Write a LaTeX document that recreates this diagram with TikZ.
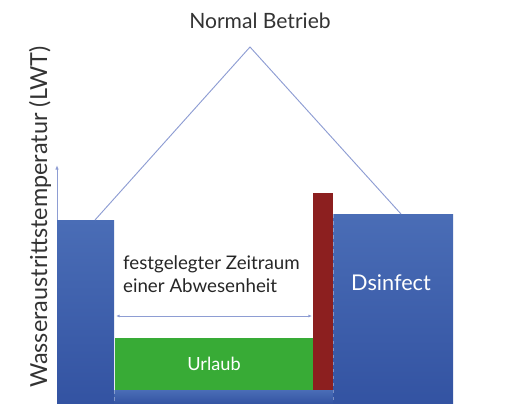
\documentclass[tikz,border=0pt]{standalone}
\usepackage{fontspec}
\setmainfont{Lato}
\usetikzlibrary{arrows.meta,positioning,calc}
\definecolor{barTop}{HTML}{4A6DB6}
\definecolor{barBot}{HTML}{3353A2}
\definecolor{leaveGreen}{HTML}{38AB36}
\definecolor{disRed}{HTML}{8C1F1F}
\definecolor{lineBlue}{HTML}{8E9DD3}

\begin{document}
\begin{tikzpicture}[x=0.03cm, y=-0.03cm,
  bar/.style={top color=barTop, bottom color=barBot, draw=none},
  head/.style={font=\fontsize{18}{21}\selectfont, text=black!80},
  note/.style={align=left, font=\fontsize{16}{19.5}\selectfont, text=black!85},
  inbar/.style={font=\fontsize{15.5}{18}\selectfont, text=white},
  roof/.style={draw=lineBlue, line width=0.8pt},
  arr/.style={-{Latex[length=4pt,width=3pt]}, draw=lineBlue, line width=0.8pt},
  seam/.style={draw=white, opacity=0.35, dashed, line width=0.6pt}
]
\useasboundingbox (0,0) rectangle (515,404);

% Bars
\fill[bar] (57,220) rectangle (114,404);
\fill[bar] (114,390) rectangle (333,404);
\fill[bar] (333,214) rectangle (453,404);
\fill[leaveGreen] (115,338) rectangle (313,390);
\fill[disRed] (313,193) rectangle (333,390);
\draw[seam] (114,390) -- (114,404);
\draw[seam] (333,214) -- (333,404);

% Roof line
\coordinate (lroof) at (95,220);
\coordinate (apex) at (250,47);
\coordinate (rroof) at (401,214);
\draw[roof] (lroof) -- (apex) -- (rroof);

% Axis and span
\coordinate (ybase) at (57,220);
\coordinate (ytip) at (57,165);
\draw[arr] (ybase) -- (ytip);
\coordinate (spanl) at (116,316);
\coordinate (spanr) at (312,316);
\draw[arr, {Latex[length=3pt,width=2.5pt]}-{Latex[length=3pt,width=2.5pt]}, line width=0.6pt] (spanl) -- (spanr);

% Labels
\node[head] (title) at (260,21) {Normal Betrieb};
\node[font=\fontsize{20}{23}\selectfont, text=black!80, rotate=90] (ylabel) at (40,217) {Wasseraustrittstemperatur (LWT)};
\node[note, anchor=west] (period) at (119,274) {festgelegter Zeitraum\\einer Abwesenheit};
\node[inbar] (leave) at (214,364) {Urlaub};
\node[font=\fontsize{18.5}{21}\selectfont, text=white] (disinf) at (391,283) {Dsinfect};

\end{tikzpicture}
\end{document}
